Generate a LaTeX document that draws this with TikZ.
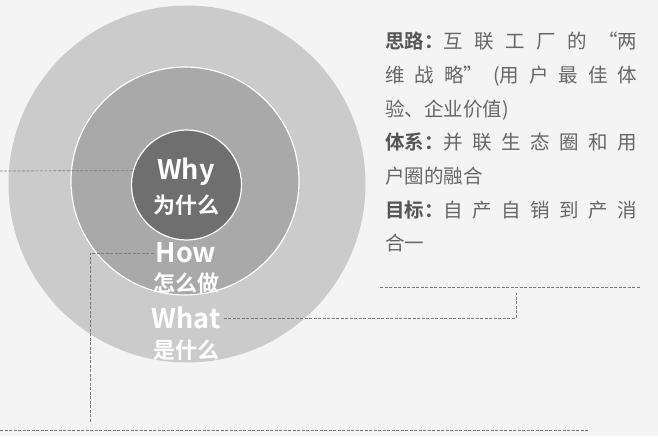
\documentclass[tikz,border=0pt]{standalone}
\usepackage{fontspec}
\newfontfamily\cjk{Noto Sans CJK SC}
\newfontfamily\cjkbold{Noto Sans CJK SC Bold}
\XeTeXlinebreaklocale "zh"
\XeTeXlinebreakskip=0pt plus 3pt
\newcommand{\notehead}[1]{\mbox{\textcolor{headgray}{\cjkbold #1}}}
\definecolor{bggray}{HTML}{F4F4F4}
\definecolor{outergray}{HTML}{CBCBCB}
\definecolor{midgray}{HTML}{A9A9A9}
\definecolor{innergray}{HTML}{6F6F6F}
\definecolor{textgray}{HTML}{666666}
\definecolor{headgray}{HTML}{555555}
\definecolor{linegray}{HTML}{7A7A7A}

\begin{document}
\begin{tikzpicture}[x=1pt,y=-1pt]
      \tikzstyle{ring}=[circle,inner sep=0pt]
      \tikzstyle{word}=[text=white,inner sep=0pt,font=\cjkbold\fontsize{27}{27}\selectfont]
      \tikzstyle{hanzi}=[text=white,inner sep=0pt,font=\cjkbold\fontsize{22}{22}\selectfont]
      \tikzstyle{guide}=[linegray,line width=0.7pt,dash pattern=on 3pt off 1.5pt]
      \fill[bggray] (0,0) rectangle (658,436);
      \useasboundingbox (0,0) rectangle (658,436);
      \node[ring,fill=outergray,minimum size=357pt] (outer) at (187,184) {};
      \node[ring,fill=midgray,draw=white,line width=1.2pt,minimum size=228pt] (middle) at (185,181) {};
      \node[ring,fill=innergray,draw=white,line width=1.2pt,minimum size=110pt] (inner) at (186.5,185) {};
      \node[word] (why) at (186,172) {Why};
      \node[hanzi] (whycn) at (186,205) {为什么};
      \node[word] (how) at (186,253) {How};
      \node[hanzi] (howcn) at (186,283) {怎么做};
      \node[word] (what) at (186,318) {What};
      \node[hanzi] (whatcn) at (186,350) {是什么};
      % notes on the right
      \node[anchor=north west,inner sep=0pt,text width=252pt,align=justify,text=textgray,
            font=\cjk\fontsize{19.5}{33.7}\selectfont] (notes) at (385,32) {%
        \notehead{思路：}互联工厂的“两\linebreak
        维战略”(用户最佳体\linebreak
        验、企业价值)\par
        \notehead{体系：}并联生态圈和用\linebreak
        户圈的融合\par
        \notehead{目标：}自产自销到产消\linebreak
        合一\par};
      % dashed guides
      \coordinate (whyend) at (0,171);
      \coordinate (howfoot) at (90,423);
      \coordinate (baseleft) at (0,430);
      \coordinate (baseright) at (588,430);
      \coordinate (whatup) at (516,293);
      \coordinate (railleft) at (380,287);
      \coordinate (railright) at (640,287);
      \draw[guide] (inner.165) -- (whyend);
      \draw[guide] ([xshift=-2pt]how.west) -| (howfoot);
      \draw[guide] (baseleft) -- (baseright);
      \draw[guide] ([xshift=3pt]what.east) -| (whatup);
      \draw[guide] (railleft) -- (railright);
\end{tikzpicture}
\end{document}
